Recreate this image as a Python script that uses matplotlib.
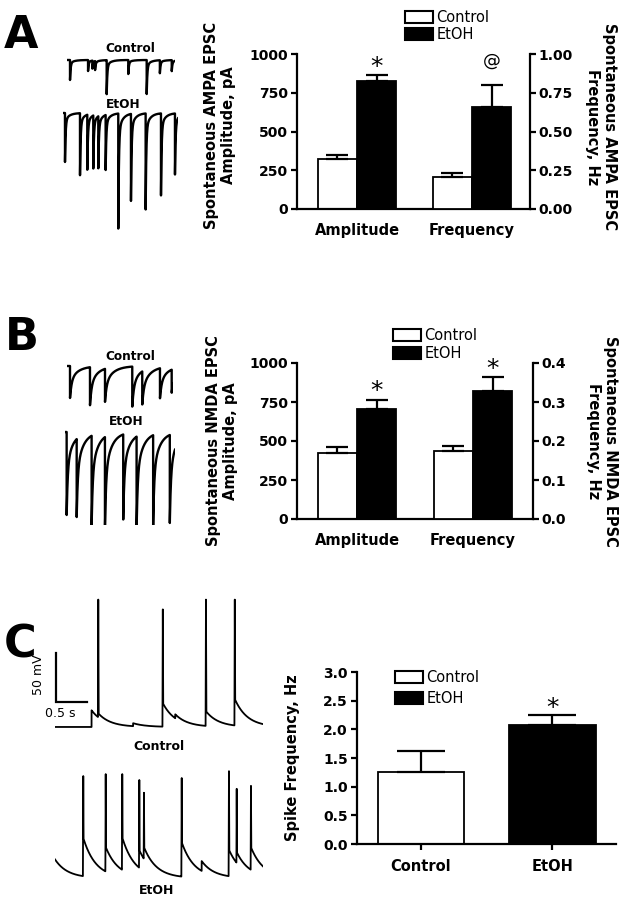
import numpy as np
import matplotlib
matplotlib.use("Agg")
import matplotlib.pyplot as plt
from matplotlib.patches import Patch

# ---------------- data ----------------
groups = ["Control", "EtOH"]
measures = ["Amplitude", "Frequency"]

# Panel A (AMPA)
A_amp_mean = [320, 826]       # pA
A_amp_sem = [26, 36]
A_freq_mean = [0.205, 0.66]   # Hz
A_freq_sem = [0.027, 0.14]
A_marks = ["*", "@"]

# Panel B (NMDA)
B_amp_mean = [426, 706]
B_amp_sem = [38, 60]
B_freq_mean = [0.174, 0.329]
B_freq_sem = [0.013, 0.035]
B_marks = ["*", "*"]

# Panel C (spike frequency)
C_mean = [1.25, 2.07]
C_sem = [0.38, 0.18]
C_marks = ["", "*"]

# Example traces: event times (s) and amplitudes
# A: AMPA sEPSCs (pA, inward)
A_ctrl_t = [0.056, 0.39, 0.47, 0.52, 0.735, 1.135, 1.476, 1.72, 1.94]
A_ctrl_a = [200, 110, 80, 90, 340, 140, 340, 130, 110]
A_etoh_t = [0.037, 0.315, 0.45, 0.561, 0.654, 0.79, 1.024, 1.259, 1.531, 1.815, 2.074]
A_etoh_a = [490, 620, 550, 530, 520, 550, 1150, 870, 960, 820, 610]
# B: NMDA sEPSCs (pA, inward)
B_ctrl_t = [0.056, 0.426, 0.704, 1.209, 1.394, 1.722, 1.939]
B_ctrl_a = [320, 380, 330, 400, 330, 300, 230]
B_etoh_t = [0.031, 0.217, 0.494, 0.741, 1.080, 1.328, 1.635, 1.944]
B_etoh_a = [830, 780, 900, 920, 850, 920, 900, 880]
# C: membrane potential (mV relative to rest)
C_ctrl_psp_t = [0.59, 0.698, 1.26, 1.739, 1.94, 2.435, 2.90]
C_ctrl_psp_a = [17, 4, 3, 24, 4, 15, 27]
C_ctrl_spk_t = [0.698, 1.739, 2.435, 2.90]
C_ctrl_spk_v = [130, 120, 130, 130]
C_etoh_psp_t = [0.0, 0.456, 0.818, 1.085, 1.36, 1.435, 2.044, 2.366, 2.806, 2.931, 3.161]
C_etoh_psp_a = [19, 39, 25, 33, 18, 12, 35, 10, 27, 11, 23]
C_etoh_spk_t = [0.456, 0.818, 1.085, 1.36, 1.435, 2.044, 2.806, 2.931, 3.161]
C_etoh_spk_v = [104, 106, 106, 100, 87, 102, 109, 91, 94]
scale_mv = 50
scale_s = 0.5

# ---------------- figure ----------------
W, H = 629, 900
fig = plt.figure(figsize=(W / 100, H / 100), dpi=100)
plt.rcParams["font.family"] = ["DejaVu Sans"]


def box(x0, x1, ytop, ybot):
    return [x0 / W, 1 - ybot / H, (x1 - x0) / W, (ybot - ytop) / H]


def ftext(x, y, s, **kw):
    fig.text(x / W, 1 - y / H, s, **kw)


LW = 1.6
TICKFS = 10
LABFS = 10.5


def style_axes(ax, right=False):
    ax.spines["top"].set_visible(False)
    for s in ["left", "bottom", "right"]:
        ax.spines[s].set_linewidth(LW)
    if not right:
        ax.spines["right"].set_visible(False)
    ax.tick_params(axis="y", length=4, width=LW, pad=2.5, labelsize=TICKFS)
    for lab in ax.get_yticklabels():
        lab.set_fontweight("bold")


def bar_pair(ax, xc, means, sems, w, caps):
    xs = [xc - w / 2, xc + w / 2]
    ax.bar(xs, means, width=w, color=["white", "black"], edgecolor="black",
           linewidth=1.3, zorder=2)
    ax.errorbar(xs, means, yerr=[[0, 0], sems], fmt="none", ecolor="black",
                elinewidth=1.6, capsize=caps, capthick=1.6, zorder=3)


def marks(ax, xc, means, sems, w, labels, sizes):
    xs = [xc - w / 2, xc + w / 2]
    for x, m, s, lab in zip(xs, means, sems, labels):
        if lab:
            ax.annotate(lab, xy=(x, m + s), xytext=(0, sizes[lab][1]),
                        textcoords="offset points", ha="center", va="baseline",
                        fontsize=sizes[lab][0], annotation_clip=False)


def legend(ax, x, y, spacing):
    handles = [Patch(facecolor="white", edgecolor="black", linewidth=1.5),
               Patch(facecolor="black", edgecolor="black", linewidth=1.5)]
    ax.legend(handles, groups, loc="upper left", bbox_to_anchor=(x / W, 1 - y / H),
              bbox_transform=fig.transFigure, frameon=False, borderpad=0,
              borderaxespad=0, handlelength=1.9, handleheight=0.85,
              handletextpad=0.25, labelspacing=spacing, fontsize=10.5)


mark_sizes = {"*": (18, 1), "@": (13, 14)}


def two_axis_panel(bx, left_ylim, left_ticks, right_ylim, right_ticks, right_fmt,
                   amp_m, amp_s, fr_m, fr_s, labels, xlim):
    ax = fig.add_axes(bx)
    ax2 = ax.twinx()
    w = 0.34
    bar_pair(ax, 0, amp_m, amp_s, w, 8)
    bar_pair(ax2, 1, fr_m, fr_s, w, 8)
    ax.set_xlim(*xlim)
    ax.set_ylim(*left_ylim)
    ax.set_yticks(left_ticks)
    ax2.set_ylim(*right_ylim)
    ax2.set_yticks(right_ticks)
    ax2.set_yticklabels([right_fmt.format(v) for v in right_ticks])
    ax.set_xticks([0, 1])
    ax.set_xticklabels(measures, fontsize=10.5, fontweight="bold")
    ax.tick_params(axis="x", length=0, pad=10)
    style_axes(ax)
    ax2.spines["top"].set_visible(False)
    ax2.spines["left"].set_visible(False)
    ax2.spines["bottom"].set_visible(False)
    ax2.spines["right"].set_linewidth(LW)
    ax2.tick_params(axis="y", length=4, width=LW, pad=2, labelsize=TICKFS)
    for lab in ax2.get_yticklabels():
        lab.set_fontweight("bold")
    marks(ax, 0, amp_m, amp_s, w, [""] + [labels[0]], mark_sizes)
    marks(ax2, 1, fr_m, fr_s, w, [""] + [labels[1]], mark_sizes)
    return ax, ax2


# ---- Panel A bars ----
axA, axA2 = two_axis_panel(box(297, 530, 54, 209), (0, 1000), [0, 250, 500, 750, 1000],
                           (0, 1.0), [0, 0.25, 0.5, 0.75, 1.0], "{:.2f}",
                           A_amp_mean, A_amp_sem, A_freq_mean, A_freq_sem, A_marks,
                           (-0.522, 1.504))
legend(axA2, 405, 10, 0.15)
ftext(220, 125, "Spontaneous AMPA EPSC\nAmplitude, pA", rotation=90, ha="center",
      va="center", fontsize=LABFS, fontweight="bold", multialignment="center")
ftext(601, 127, "Spontaneous AMPA EPSC\nFrequency, Hz", rotation=270, ha="center",
      va="center", fontsize=LABFS, fontweight="bold", multialignment="center")

# ---- Panel B bars ----
axB, axB2 = two_axis_panel(box(297, 533, 363, 519), (0, 1000), [0, 250, 500, 750, 1000],
                           (0, 0.4), [0, 0.1, 0.2, 0.3, 0.4], "{:.1f}",
                           B_amp_mean, B_amp_sem, B_freq_mean, B_freq_sem, B_marks,
                           (-0.517, 1.517))
legend(axB2, 393, 328, 0.2)
ftext(222, 441, "Spontaneous NMDA EPSC\nAmplitude, pA", rotation=90, ha="center",
      va="center", fontsize=LABFS, fontweight="bold", multialignment="center")
ftext(602, 441, "Spontaneous NMDA EPSC\nFrequency, Hz", rotation=270, ha="center",
      va="center", fontsize=LABFS, fontweight="bold", multialignment="center")

# ---- Panel C bars ----
axC = fig.add_axes(box(357, 616, 672, 844))
wC = 0.658
axC.bar([0, 1], C_mean, width=wC, color=["white", "black"], edgecolor="black",
        linewidth=1.3, zorder=2)
axC.errorbar([0, 1], C_mean, yerr=[[0, 0], C_sem], fmt="none", ecolor="black",
             elinewidth=1.6, capsize=17, capthick=1.6, zorder=3)
for x, m, s, lab in zip([0, 1], C_mean, C_sem, C_marks):
    if lab:
        axC.annotate(lab, xy=(x, m + s), xytext=(0, 0), textcoords="offset points",
                     ha="center", va="baseline", fontsize=18, annotation_clip=False)
axC.set_xlim(-0.487, 1.483)
axC.set_ylim(0, 3.0)
axC.set_yticks(np.arange(0, 3.01, 0.5))
axC.set_yticklabels(["{:.1f}".format(v) for v in np.arange(0, 3.01, 0.5)])
axC.set_xticks([0, 1])
axC.set_xticklabels(groups, fontsize=10.5, fontweight="bold")
axC.tick_params(axis="x", length=4, width=LW, pad=7)
style_axes(axC)
legend(axC, 395, 670, 0.42)
ftext(292, 758, "Spike Frequency, Hz", rotation=90, ha="center", va="center",
      fontsize=LABFS, fontweight="bold")

# ---------------- traces ----------------

def epsc(t, times, amps, ffast, tf, ts):
    y = np.zeros_like(t)
    for ti, a in zip(times, amps):
        m = t >= ti
        d = t[m] - ti
        y[m] -= a * (ffast * np.exp(-d / tf) + (1 - ffast) * np.exp(-d / ts))
    return y


def vm(t, pt, pa, tau, st, sv, hw=0.006):
    v = np.zeros_like(t)
    for ti, a in zip(pt, pa):
        m = t >= ti
        v[m] += a * np.exp(-(t[m] - ti) / tau)
    for ti, pk in zip(st, sv):
        tri = pk * (1 - np.abs(t - ti) / hw)
        v = np.maximum(v, tri)
    return v


def trace_ax(x0, x1, ytop, ybot, xlim, ylim):
    ax = fig.add_axes(box(x0, x1, ytop, ybot))
    ax.set_xlim(*xlim)
    ax.set_ylim(*ylim)
    ax.axis("off")
    return ax


# A traces (54 px/s, 10 pA/px)
T = 2.0
t = np.arange(0, T, 0.0005)
ax = trace_ax(67, 175, 50, 100, (0, T), (-400, 100))
ax.plot(t, epsc(t, A_ctrl_t, A_ctrl_a, 0.85, 0.012, 0.08), color="black", lw=1.7)
T = 2.13
t = np.arange(0, T, 0.0005)
ax = trace_ax(63, 178, 105, 235, (0, T), (-1220, 80))
ax.plot(t, epsc(t, A_etoh_t, A_etoh_a, 0.85, 0.012, 0.08), color="black", lw=1.7)
ftext(130, 52, "Control", ha="center", va="baseline", fontsize=8.7, fontweight="bold")
ftext(123, 108, "EtOH", ha="center", va="baseline", fontsize=8.7, fontweight="bold")

# B traces
T = 1.963
t = np.arange(0, T, 0.0005)
ax = trace_ax(67, 173, 358, 410, (0, T), (-440, 80))
ax.plot(t, epsc(t, B_ctrl_t, B_ctrl_a, 0.55, 0.03, 0.15), color="black", lw=1.7)
T = 2.04
t = np.arange(0, T, 0.0005)
ax = trace_ax(65, 175, 425, 525, (0, T), (-930, 70))
ax.plot(t, epsc(t, B_etoh_t, B_etoh_a, 0.6, 0.02, 0.12), color="black", lw=1.7)
ftext(130, 360, "Control", ha="center", va="baseline", fontsize=8.7, fontweight="bold")
ftext(126, 425, "EtOH", ha="center", va="baseline", fontsize=8.7, fontweight="bold")

# C traces (62 px/s, 0.98 px/mV)
T = 3.355
t = np.arange(0, T, 0.0005)
axc1 = trace_ax(55, 263, 595, 740, (0, T), (-13.3, 134.7))
axc1.plot(t, vm(t, C_ctrl_psp_t, C_ctrl_psp_a, 0.2, C_ctrl_spk_t, C_ctrl_spk_v),
          color="black", lw=1.3)
# scale bar
sb_t0, sb_v0 = 0.016, 25.5
axc1.plot([sb_t0, sb_t0, sb_t0 + scale_s], [sb_v0 + scale_mv, sb_v0, sb_v0],
          color="black", lw=1.6, solid_joinstyle="miter", clip_on=False)
axc2 = trace_ax(55, 263, 765, 885, (0, T), (-7.1, 115.3))
axc2.plot(t, vm(t, C_etoh_psp_t, C_etoh_psp_a, 0.2, C_etoh_spk_t, C_etoh_spk_v),
          color="black", lw=1.3)
ftext(39, 675, f"{scale_mv} mV", rotation=90, ha="center", va="center", fontsize=9)
ftext(60, 717, f"{scale_s} s", ha="center", va="baseline", fontsize=9)
ftext(159, 750, "Control", ha="center", va="baseline", fontsize=9, fontweight="bold")
ftext(157, 894, "EtOH", ha="center", va="baseline", fontsize=9, fontweight="bold")

# panel letters
for lab, x, y in [("A", 21, 48), ("B", 22, 350), ("C", 20, 658)]:
    ftext(x, y, lab, ha="center", va="baseline", fontsize=32, fontweight="bold")

fig.savefig("out.png", dpi=100)
